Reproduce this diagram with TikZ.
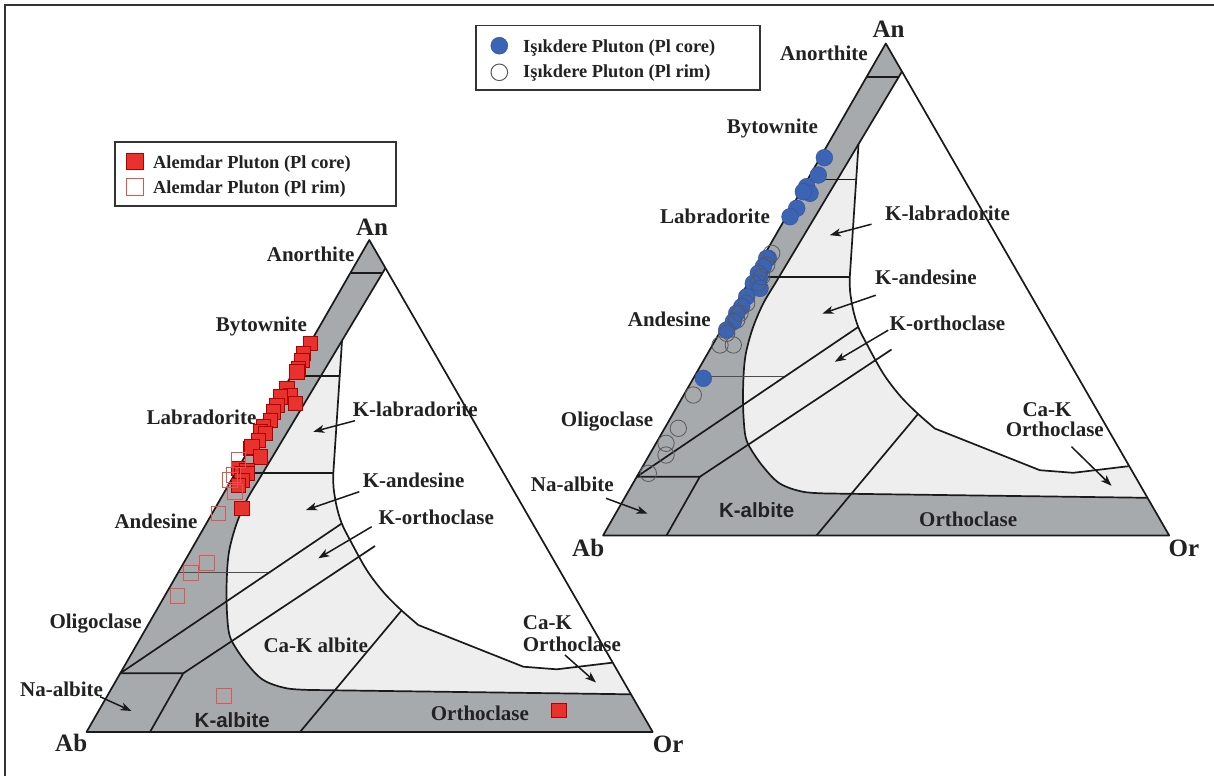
\documentclass[tikz,border=0pt]{standalone}
\usepackage{fontspec}
\setmainfont{Liberation Serif}
\newfontfamily\lsans{Liberation Sans}
\usetikzlibrary{arrows.meta}
\definecolor{bandgrey}{HTML}{A7AAAD}
\definecolor{lightfld}{HTML}{EEEEEE}
\definecolor{linec}{HTML}{1A1A1A}
\definecolor{textc}{HTML}{222222}
\definecolor{redc}{HTML}{E8322E}
\definecolor{redline}{HTML}{E2554E}
\definecolor{bluec}{HTML}{3C64B4}
\definecolor{blueline}{HTML}{2F5196}
\definecolor{framec}{HTML}{333333}
\tikzset{
  fl/.style={line width=1.7pt, draw=linec, line join=round},
  arr/.style={line width=1.5pt, draw=linec, -{Stealth[length=11pt,width=8pt,inset=3pt]}},
  lbl/.style={font=\fontsize{21}{24}\selectfont\bfseries, text=textc, inner sep=0pt, anchor=base west},
  vtx/.style={font=\fontsize{25}{28}\selectfont\bfseries, text=textc, inner sep=0pt, anchor=base west},
  slbl/.style={font=\lsans\fontsize{20.5}{24}\selectfont\bfseries, text=textc, inner sep=0pt, anchor=base west},
  leg/.style={font=\fontsize{18.4}{22}\selectfont\bfseries, text=textc, inner sep=0pt, anchor=base west},
  legbox/.style={line width=1.6pt, draw=framec, fill=white},
  sqfill/.style={fill=redc, draw=red!70!black, line width=0.4pt},
  sqopen/.style={draw=redline, line width=0.9pt},
  cifill/.style={fill=bluec, draw=blueline, line width=0.4pt},
  ciopen/.style={draw=black!65, line width=0.8pt},
}
\newcommand{\curveR}{(418.3,625) (400,609) (383.3,592) (366.7,570) (350,540) (341.7,523.3) (336.7,506.7) (333.6,488) (333.3,473.3)}
\newcommand{\curveRrev}{(333.3,473.3) (333.6,488) (336.7,506.7) (341.7,523.3) (350,540) (366.7,570) (383.3,592) (400,609) (418.3,625)}
\newcommand{\curveL}{(258,481) (246.7,500) (236.7,523.3) (230,546.7) (227.5,565) (226.5,590) (227,613) (229,633) (234,645) (246.7,663.3) (263.3,680) (286.7,688.3) (313,690)}
\newcommand{\fldpaths}[1]{%
  \fill[bandgrey] (86.5,732) -- (369.3,240) -- (652.7,732) -- cycle;
  \fill[white] (385.5,268) -- (612,662.7) -- (556.7,669.3) -- (523.3,666.7) -- (418.3,625)
    -- plot[smooth,tension=0.55] coordinates {\curveR} -- (342,341) -- cycle;
  \fill[lightfld] (342,341) -- (258,481)
    -- plot[smooth,tension=0.55] coordinates {\curveL}
    -- (631,694.3) -- (612,662.7) -- (556.7,669.3) -- (523.3,666.7) -- (418.3,625)
    -- plot[smooth,tension=0.55] coordinates {\curveR} -- cycle;
  % boundaries
  \draw[fl] (385.5,268) -- (258,481) -- plot[smooth,tension=0.55] coordinates {\curveL} -- (631,694.3);
  \draw[fl] (342,341) -- (333.3,473.3) -- plot[smooth,tension=0.55] coordinates {\curveRrev}
    -- (523.3,666.7) -- (556.7,669.3) -- (612,662.7);
  \draw[fl] (350.2,273.3) -- (382.3,273.3);
  \draw[fl] (291.1,376) -- (339.8,376);
  \draw[fl] (235.2,473.3) -- (333.3,473.3);
  \draw[line width=1.2pt, draw=black!70] (178.1,572.7) -- (268.7,572.7);
  \draw[fl] (120.2,673.3) -- (183.3,673.3) -- (150,732);
  \draw[fl] (120.2,673.3) -- (342,523.3);
  \draw[fl] (183.3,673.3) -- (375,546);
  \draw[fl] (300,732) -- (401.5,610.5);
  \draw[fl] (86.5,732) -- (369.3,240) -- (652.7,732) -- cycle;
  % arrows
  \coordinate (#1klT) at (355,420.7); \coordinate (#1klH) at (313.3,431.7);
  \coordinate (#1kaT) at (359.3,491.7); \coordinate (#1kaH) at (306,510);
  \coordinate (#1koT) at (371.7,526.7); \coordinate (#1koH) at (318.3,558.3);
  \draw[arr] (#1klT) -- (#1klH);
  \draw[arr] (#1kaT) -- (#1kaH);
  \draw[arr] (#1koT) -- (#1koH);
}
\begin{document}
\begin{tikzpicture}[x=1pt,y=-1pt]
\useasboundingbox (0,0) rectangle (1214,776);
\fill[white] (0,0) rectangle (1214,776);
\draw[line width=2.2pt, framec] (5,776) -- (5,5) -- (1214,5);

% ---------- left diagram ----------
\fldpaths{L}
\coordinate (LnaT) at (100,696.7); \coordinate (LnaH) at (131.5,711);
\coordinate (LckT) at (565,655); \coordinate (LckH) at (596,682.5);
\draw[arr] (LnaT) -- (LnaH);
\draw[arr] (LckT) -- (LckH);

% red squares (core)
\foreach \x/\y in {310/343.3, 303.3/353.3, 301.7/360, 298.3/368.3, 296.7/371.7,
  286.7/388.3, 290/395, 295/403.3, 280/396.7, 276.7/405, 273.3/411.7, 270/420,
  263.3/426.7, 260/431.7, 265/433.3, 258.3/440, 250/448.3, 251.7/446.7, 260/456.7,
  238.3/468.3, 246.7/470, 241.7/473.3, 246.7/473.3, 241.7/480, 238.3/485, 241.7/508.3}
  \filldraw[sqfill] (\x-7.3,\y-7.3) rectangle (\x+7.3,\y+7.3);
\filldraw[sqfill] (551.5,703) rectangle (566,717.5);
% open squares (rim)
\foreach \x/\y in {238.3/460, 233.3/475, 230/480, 235/491.7, 218.3/513.3,
  206.7/562.7, 190.7/572.7, 177.3/595.7, 224/695.7}
  \draw[sqopen] (\x-7.3,\y-7.3) rectangle (\x+7.3,\y+7.3);

% left labels
\node[vtx, anchor=base] (LAn) at (372,235) {An};
\node[vtx] (LAb) at (55,751.7) {Ab};
\node[vtx] (LOr) at (652.7,752.5) {Or};
\node[lbl] (Lanor) at (266.7,261.7) {Anorthite};
\node[lbl] (Lbyt) at (215.7,331.7) {Bytownite};
\node[lbl] (Llab) at (146.5,424.7) {Labradorite};
\node[lbl] (Lklab) at (352.7,416) {K-labradorite};
\node[lbl] (Lkand) at (362.7,487.3) {K-andesine};
\node[lbl] (Lkort) at (378.3,524.3) {K-orthoclase};
\node[lbl] (Land) at (114.3,528.3) {Andesine};
\node[lbl] (Lolig) at (49.3,628.3) {Oligoclase};
\node[lbl] (Lnaab) at (20,696.7) {Na-albite};
\node[slbl] (Lkab) at (194.5,727.8) {K-albite};
\node[lbl] (Lckab) at (263.3,652) {Ca-K albite};
\node[lbl] (Lck1) at (522.7,629) {Ca-K};
\node[lbl] (Lck2) at (522.7,651.7) {Orthoclase};
\node[lbl] (Lorth) at (430.7,720.7) {Orthoclase};

% left legend
\draw[legbox] (115,142) rectangle (396,206);
\filldraw[sqfill] (126,152.7) rectangle (143,169.5);
\draw[sqopen] (126,178) rectangle (143,195);
\node[leg] (Lleg1) at (153,168.5) {Alemdar Pluton (Pl core)};
\node[leg] (Lleg2) at (153,193) {Alemdar Pluton (Pl rim)};

% ---------- right diagram ----------
\begin{scope}[shift={(516.5,-196.5)}]
\fldpaths{R}
\end{scope}
\coordinate (RnaT) at (606,498.3); \coordinate (RnaH) at (647.5,513.6);
\coordinate (RckT) at (1071.5,446.7); \coordinate (RckH) at (1111.5,485.8);
\draw[arr] (RnaT) -- (RnaH);
\draw[arr] (RckT) -- (RckH);

% blue circles (core)
\foreach \x/\y in {824.3/157.7, 818.3/175, 806.7/186.7, 810/193.3, 803.3/191.7,
  796.7/208.3, 790/216.7, 768.3/258.3, 766.7/258.3, 763.3/266.7, 760/276.7,
  758.3/273.3, 753.3/283.3, 760/288.3, 746.7/296.7, 741.7/306.7, 736.7/313.3,
  733.3/321.7, 726.7/330, 703.3/378.3}
  \filldraw[cifill] (\x,\y) circle[radius=8.4];
% open circles (rim)
\foreach \x/\y in {771.7/253.3, 766.7/265, 761.7/276.7, 758.3/283, 746.7/303.3,
  740/313.3, 736.7/320, 726.7/333.3, 720/345, 733.3/345, 693.3/395,
  678.3/428.3, 666/443.3, 666/455, 648.3/473.3}
  \draw[ciopen] (\x,\y) circle[radius=8.2];

% right labels
\node[vtx, anchor=base] (RAn) at (888.5,37.7) {An};
\node[vtx] (RAb) at (572,556.7) {Ab};
\node[vtx] (ROr) at (1168.5,556.7) {Or};
\node[lbl] (Ranor) at (780,60) {Anorthite};
\node[lbl] (Rbyt) at (726.7,133.3) {Bytownite};
\node[lbl] (Rlab) at (660,223.3) {Labradorite};
\node[lbl] (Rand) at (627.7,326.7) {Andesine};
\node[lbl, anchor=base east] (Rolig) at (653.3,426.7) {Oligoclase};
\node[lbl] (Rnaab) at (530.7,491) {Na-albite};
\node[lbl] (Rklab) at (885,220.7) {K-labradorite};
\node[lbl] (Rkand) at (875,284) {K-andesine};
\node[lbl] (Rkort) at (889.5,330) {K-orthoclase};
\node[lbl, anchor=base] (Rck1) at (1047,416) {Ca-K};
\node[lbl, anchor=base] (Rck2) at (1054.8,436) {Orthoclase};
\node[slbl] (Rkab) at (718.8,517.3) {K-albite};
\node[lbl] (Rorth) at (919,526) {Orthoclase};

% right legend
\draw[legbox] (475.7,25.7) rectangle (760,90);
\filldraw[cifill] (499.3,45.7) circle[radius=8.5];
\draw[ciopen, line width=1pt] (499.3,72.3) circle[radius=8.3];
\node[leg] (Rleg1) at (523,52.5) {Işıkdere Pluton (Pl core)};
\node[leg] (Rleg2) at (523,77.5) {Işıkdere Pluton (Pl rim)};
\end{tikzpicture}
\end{document}
